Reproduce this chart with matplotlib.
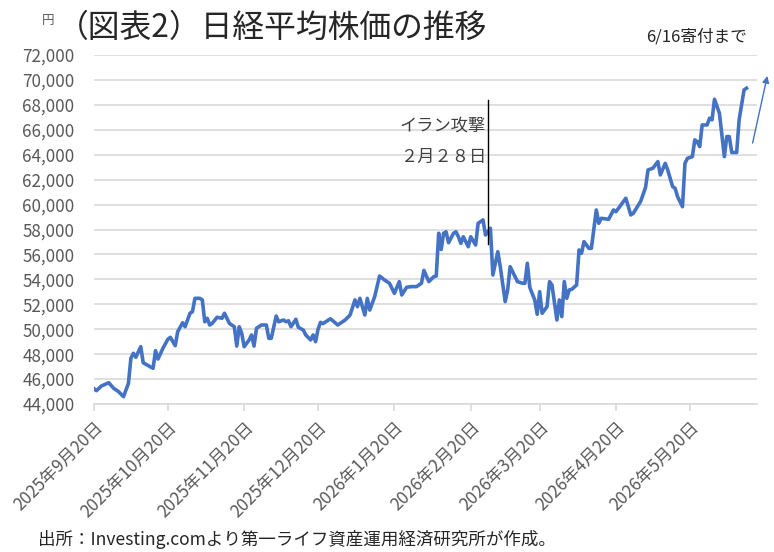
import numpy as np
import pandas as pd
import matplotlib
matplotlib.use("Agg")
import matplotlib.pyplot as plt

plt.rcParams["font.family"] = ["Noto Sans CJK JP", "DejaVu Sans"]

# Nikkei 225 closes (yen)
dates = [
    "2025-09-19", "2025-09-21", "2025-09-23", "2025-09-26", "2025-09-28", "2025-09-30",
    "2025-10-02", "2025-10-04", "2025-10-05", "2025-10-06", "2025-10-07", "2025-10-09",
    "2025-10-10", "2025-10-14", "2025-10-15", "2025-10-16", "2025-10-18", "2025-10-20",
    "2025-10-21", "2025-10-23", "2025-10-24", "2025-10-26", "2025-10-27", "2025-10-29",
    "2025-10-30", "2025-10-31", "2025-11-02", "2025-11-03", "2025-11-04", "2025-11-05",
    "2025-11-06", "2025-11-07", "2025-11-09", "2025-11-11", "2025-11-12", "2025-11-14",
    "2025-11-16", "2025-11-17", "2025-11-18", "2025-11-19", "2025-11-20", "2025-11-22",
    "2025-11-23", "2025-11-24", "2025-11-25", "2025-11-27", "2025-11-29", "2025-11-30",
    "2025-12-01", "2025-12-03", "2025-12-04", "2025-12-06", "2025-12-07", "2025-12-08",
    "2025-12-09", "2025-12-11", "2025-12-12", "2025-12-14", "2025-12-15", "2025-12-17",
    "2025-12-18", "2025-12-19", "2025-12-20", "2025-12-21", "2025-12-22", "2025-12-25",
    "2025-12-26", "2025-12-28", "2025-12-31", "2026-01-02", "2026-01-04", "2026-01-05",
    "2026-01-06", "2026-01-07", "2026-01-08", "2026-01-09", "2026-01-10", "2026-01-12",
    "2026-01-14", "2026-01-16", "2026-01-18", "2026-01-20", "2026-01-22", "2026-01-23",
    "2026-01-25", "2026-01-27", "2026-01-29", "2026-01-31", "2026-02-01", "2026-02-03",
    "2026-02-05", "2026-02-06", "2026-02-07", "2026-02-08", "2026-02-09", "2026-02-10",
    "2026-02-11", "2026-02-13", "2026-02-14", "2026-02-15", "2026-02-16", "2026-02-17",
    "2026-02-19", "2026-02-20", "2026-02-22", "2026-02-23", "2026-02-25", "2026-02-26",
    "2026-02-28", "2026-03-01", "2026-03-03", "2026-03-04", "2026-03-06", "2026-03-07",
    "2026-03-08", "2026-03-11", "2026-03-13", "2026-03-14", "2026-03-15", "2026-03-16",
    "2026-03-18", "2026-03-19", "2026-03-20", "2026-03-21", "2026-03-23", "2026-03-24",
    "2026-03-25", "2026-03-27", "2026-03-28", "2026-03-29", "2026-03-30", "2026-03-31",
    "2026-04-01", "2026-04-02", "2026-04-04", "2026-04-05", "2026-04-06", "2026-04-07",
    "2026-04-09", "2026-04-10", "2026-04-12", "2026-04-13", "2026-04-14", "2026-04-17",
    "2026-04-19", "2026-04-20", "2026-04-22", "2026-04-24", "2026-04-26", "2026-04-27",
    "2026-04-30", "2026-05-02", "2026-05-03", "2026-05-05", "2026-05-07", "2026-05-08",
    "2026-05-10", "2026-05-11", "2026-05-13", "2026-05-14", "2026-05-15", "2026-05-17",
    "2026-05-18", "2026-05-19", "2026-05-21", "2026-05-22", "2026-05-23", "2026-05-24",
    "2026-05-25", "2026-05-27", "2026-05-28", "2026-05-29", "2026-05-30", "2026-06-01",
    "2026-06-03", "2026-06-04", "2026-06-05", "2026-06-06", "2026-06-08", "2026-06-09",
    "2026-06-11", "2026-06-12",
]
nikkei = [
    45390, 45070, 45440, 45710, 45260, 44990,
    44590, 45660, 47670, 48070, 47750, 48600,
    47310, 46860, 48280, 47610, 48470, 49190,
    49350, 48680, 49800, 50520, 50200, 51280,
    51410, 52480, 52480, 52350, 50600, 50880,
    50340, 50470, 50960, 50880, 51280, 50470,
    50200, 48650, 50200, 49670, 48600, 49140,
    49540, 48650, 50070, 50340, 50340, 49270,
    49270, 51060, 50600, 50740, 50600, 50680,
    50200, 50800, 50150, 49940, 49540, 49140,
    49540, 49000, 50000, 50550, 50450, 50840,
    50680, 50340, 50740, 51140, 52350, 51810,
    52480, 51810, 51140, 52480, 51540, 52620,
    54270, 53950, 53690, 52880, 53820, 52750,
    53370, 53420, 53420, 53690, 54720, 53820,
    54220, 54270, 57700, 56400, 57700, 57820,
    56940, 57700, 57820, 57420, 56890, 57420,
    56620, 57420, 56760, 58500, 58770, 57560,
    58100, 54350, 56220, 55020, 52210, 53150,
    55020, 53820, 53690, 53690, 55290, 53350,
    52350, 51200, 53010, 51280, 51810, 53820,
    53550, 50740, 52350, 51010, 53820, 52480,
    53150, 53200, 53550, 56360, 56090, 57030,
    56490, 56490, 59570, 58500, 58900, 58820,
    59570, 59430, 59970, 60510, 59170, 59300,
    60250, 61380, 62780, 62920, 63450, 62380,
    63310, 62780, 61440, 61310, 60640, 59830,
    63310, 63710, 63850, 65190, 65050, 64650,
    66390, 66390, 66930, 66800, 68450, 67330,
    63850, 65460, 65460, 64180, 64180, 66800,
    69200, 69340,
]

tick_dates = ["2025-09-20", "2025-10-20", "2025-11-20", "2025-12-20", "2026-01-20",
              "2026-02-20", "2026-03-20", "2026-04-20", "2026-05-20"]
yticks = np.arange(44000, 72001, 2000)
event_date = "2026-02-27"

x = pd.to_datetime(dates)
ticks = pd.to_datetime(tick_dates)

fig = plt.figure(figsize=(7.74, 5.52), dpi=100)
ax = fig.add_axes([0.1214, 0.2681, 0.8566, 0.6322])

ax.plot(x, nikkei, color="#4472C4", lw=2.6, solid_joinstyle="round", zorder=3)

ax.set_ylim(44000, 72000)
ax.set_xlim(pd.Timestamp("2025-09-20"), pd.Timestamp("2026-06-16 06:00"))
ax.set_yticks(yticks)
ax.set_yticklabels([f"{v:,}" for v in yticks])
ax.set_xticks(ticks)
ax.set_xticklabels([f"{d.year}年{d.month}月{d.day}日" for d in ticks],
                   rotation=45, ha="right", rotation_mode="anchor")
ax.grid(axis="y", color="#d9d9d9", lw=1.2)
ax.set_axisbelow(True)
for s in ["top", "right", "left"]:
    ax.spines[s].set_visible(False)
ax.spines["bottom"].set_color("#d9d9d9")
ax.spines["bottom"].set_linewidth(1.2)
ax.tick_params(axis="y", length=0, labelsize=12.3, labelcolor="#595959", pad=14)
ax.tick_params(axis="x", length=5, color="#d9d9d9", width=1.2, labelsize=12.3,
               labelcolor="#595959", pad=5)

# event marker
ev = pd.Timestamp(event_date)
ax.plot([ev, ev], [56800, 68400], color="black", lw=1, zorder=4)
ax.text(ev - pd.Timedelta(days=0.8), 66300, "イラン攻撃", ha="right", va="center",
        fontsize=12.4, color="#404040")
ax.text(ev - pd.Timedelta(days=0.8), 63800, "２月２８日", ha="right", va="center",
        fontsize=12.4, color="#404040")

# trend arrow at the right edge
ax.annotate("", xy=(1.0165, 0.948), xytext=(0.9925, 0.74), xycoords="axes fraction",
            textcoords="axes fraction", annotation_clip=False,
            arrowprops=dict(arrowstyle="-|>", color="#4472C4", lw=1, mutation_scale=10))

fig.text(0.054, 0.975, "円", fontsize=9, color="#595959", va="top")
fig.text(0.074, 0.949, "（図表2）日経平均株価の推移", fontsize=22.9, color="#262626", va="center")
fig.text(0.965, 0.933, "6/16寄付まで", fontsize=12, color="#262626", ha="right", va="center")
fig.text(0.049, 0.022, "出所：Investing.comより第一ライフ資産運用経済研究所が作成。",
         fontsize=12.6, color="#262626", va="center")

fig.savefig("out.png", dpi=100)
